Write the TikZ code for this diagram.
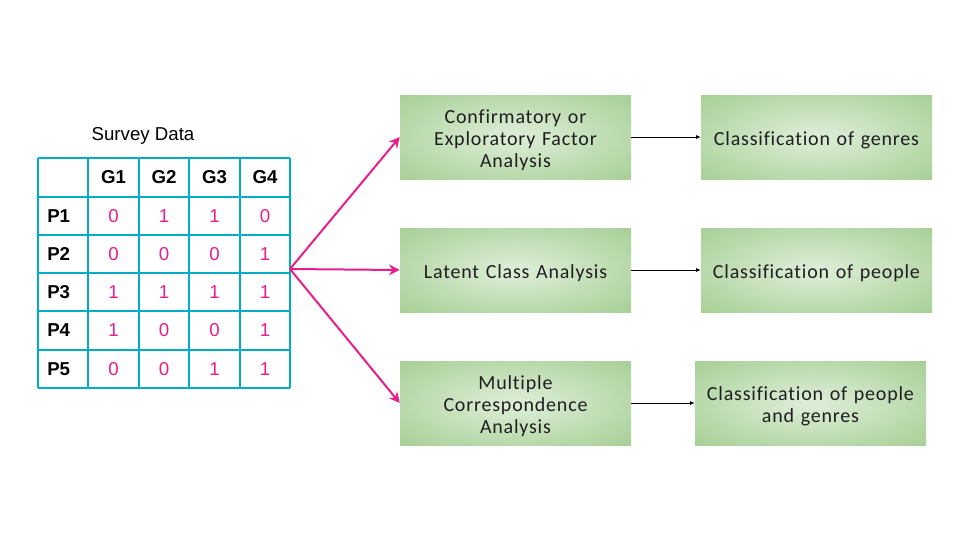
\documentclass[tikz,border=0pt]{standalone}
\usepackage{fontspec}
\setmainfont{Liberation Sans}
\newfontfamily\boxfont{Carlito}[LetterSpace=4,Ligatures={NoCommon}]
\usetikzlibrary{arrows.meta}
\definecolor{pinkc}{RGB}{233,30,140}
\definecolor{gridc}{RGB}{0,172,200}
\definecolor{gin}{RGB}{218,236,212}
\definecolor{gmid}{RGB}{176,212,160}
\definecolor{gout}{RGB}{148,194,126}
\definecolor{gcorner}{RGB}{138,188,114}
\pgfdeclareradialshading{boxshade}{\pgfpoint{0bp}{0bp}}{color(0bp)=(gin); color(3bp)=(gin); color(30bp)=(gmid); color(50bp)=(gout); color(72bp)=(gcorner)}
\begin{document}
\begin{tikzpicture}[x=0.75pt,y=-0.75pt,
  gbox/.style={rectangle, shading=boxshade, minimum width=173.25pt, minimum height=63pt, inner sep=0pt},
  btext/.style={text width=172pt, align=center, inner sep=0pt, yshift=-2.2pt,
    font=\boxfont\fontsize{15}{16.5}\selectfont, text=black!88},
  hdr/.style={font=\fontsize{14}{16}\selectfont\bfseries, inner sep=0pt},
  rowlab/.style={font=\fontsize{14}{16}\selectfont\bfseries, inner sep=0pt, anchor=west},
  val/.style={font=\fontsize{14}{16}\selectfont, text=pinkc, inner sep=0pt},
  gridline/.style={draw=gridc, line width=0.9pt},
  pinkarrow/.style={draw=pinkc, line width=1.5pt, -{Stealth[length=8pt,width=8pt]}},
  blackarrow/.style={draw=black, line width=0.6pt, -{Latex[length=3.5pt,width=3pt]}}
]
\useasboundingbox (0,0) rectangle (960,540);
\fill[white] (0,0) rectangle (960,540);

% table title
\node[font=\fontsize{14}{16}\selectfont, inner sep=0pt] (title) at (143,136) {Survey Data};

% table grid
\foreach \x in {38,88,139,189,240,290} \draw[gridline] (\x,158) -- (\x,388);
\foreach \y in {158,197,235,273,311,350,388} \draw[gridline] (38,\y) -- (290,\y);

% header
\node[hdr] (g1) at (113.5,177.5) {G1};
\node[hdr] (g2) at (164,177.5) {G2};
\node[hdr] (g3) at (214.5,177.5) {G3};
\node[hdr] (g4) at (265,177.5) {G4};

% row labels
\node[rowlab] (p1) at (47,216) {P1};
\node[rowlab] (p2) at (47,254) {P2};
\node[rowlab] (p3) at (47,292) {P3};
\node[rowlab] (p4) at (47,330.5) {P4};
\node[rowlab] (p5) at (47,369) {P5};

% values
\node[val] (v11) at (113.5,216) {0};
\node[val] (v12) at (164,216) {1};
\node[val] (v13) at (214.5,216) {1};
\node[val] (v14) at (265,216) {0};
\node[val] (v21) at (113.5,254) {0};
\node[val] (v22) at (164,254) {0};
\node[val] (v23) at (214.5,254) {0};
\node[val] (v24) at (265,254) {1};
\node[val] (v31) at (113.5,292) {1};
\node[val] (v32) at (164,292) {1};
\node[val] (v33) at (214.5,292) {1};
\node[val] (v34) at (265,292) {1};
\node[val] (v41) at (113.5,330.5) {1};
\node[val] (v42) at (164,330.5) {0};
\node[val] (v43) at (214.5,330.5) {0};
\node[val] (v44) at (265,330.5) {1};
\node[val] (v51) at (113.5,369) {0};
\node[val] (v52) at (164,369) {0};
\node[val] (v53) at (214.5,369) {1};
\node[val] (v54) at (265,369) {1};

% boxes
\node[gbox] (cfa) at (515.5,137) {};
\node[gbox] (lca) at (515.5,270) {};
\node[gbox] (mca) at (515.5,403) {};
\node[gbox] (cg) at (816.5,137) {};
\node[gbox] (cp) at (816.5,270) {};
\node[gbox] (cpg) at (810.5,403) {};
\node[btext] (cfa-t) at (cfa.center) {Confirmatory or\\Exploratory Factor\\Analysis};
\node[btext] (lca-t) at (lca.center) {Latent Class Analysis};
\node[btext] (mca-t) at (mca.center) {Multiple\\Correspondence\\Analysis};
\node[btext] (cg-t) at (cg.center) {Classification of genres};
\node[btext] (cp-t) at (cp.center) {Classification of people};
\node[btext] (cpg-t) at (cpg.center) {Classification of people\\and genres};

% connectors
\coordinate (src) at (290,269);
\draw[pinkarrow] (src) -- (cfa.west);
\draw[pinkarrow] (src) -- (lca.west);
\draw[pinkarrow] (src) -- (mca.west);
\draw[blackarrow] (cfa.east) -- (cg.west);
\draw[blackarrow] (lca.east) -- (cp.west);
\draw[blackarrow] (mca.east) -- (cpg.west);
\end{tikzpicture}
\end{document}
